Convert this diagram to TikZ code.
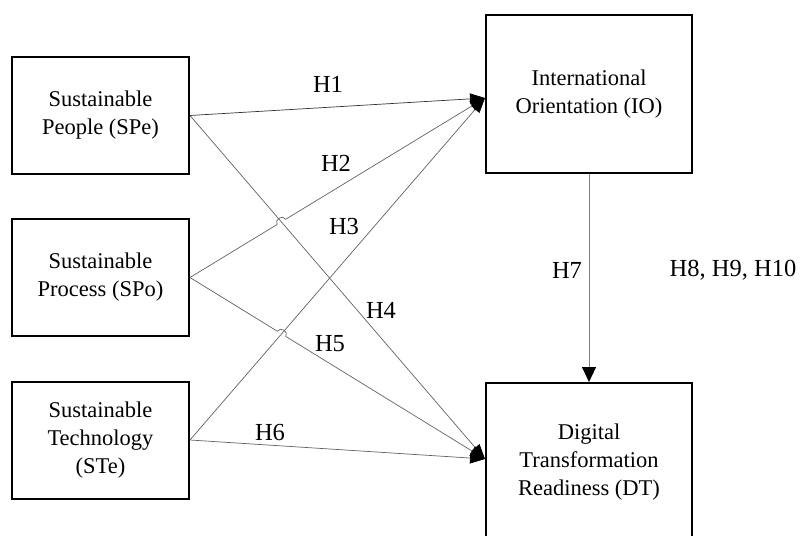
\documentclass[tikz,border=0pt]{standalone}
\usepackage{fontspec}
\setmainfont{Liberation Serif}
\usetikzlibrary{arrows.meta,calc,intersections}
\begin{document}
\begin{tikzpicture}[x=1pt,y=1pt,
  box/.style={draw=black,line width=2pt,fill=white,align=center,
    font=\fontsize{22.5}{28}\selectfont,inner sep=0pt},
  smallbox/.style={box,minimum width=177pt,minimum height=117pt},
  bigbox/.style={box,minimum width=206pt,minimum height=158pt},
  conn/.style={draw=black!62,line width=0.7pt,-{Triangle[length=15pt,width=11pt,fill=black,color=black]}},
  lbl/.style={font=\fontsize{24.5}{28}\selectfont,inner sep=0pt}
]
\useasboundingbox (0,0) rectangle (805,-535);

\node[smallbox] (SPe) at (100.5,-115.5) {Sustainable\\People (SPe)};
\node[smallbox] (SPo) at (100.5,-277.5) {Sustainable\\Process (SPo)};
\node[smallbox] (STe) at (100.5,-440) {Sustainable\\Technology\\(STe)};
\node[bigbox] (IO) at (589,-94) {International\\Orientation (IO)};
\node[bigbox] (DT) at (589,-462) {Digital\\Transformation\\Readiness (DT)};

\coordinate (ioin) at (485,-98);
\coordinate (dtin) at (485,-459);

\path[name path=p4] (SPe.east) -- (dtin);
\path[name path=p2] (SPo.east) -- (ioin);
\path[name path=p5] (SPo.east) -- (dtin);
\path[name path=p3] (STe.east) -- (ioin);
\path[name intersections={of=p4 and p2,by=X1}];
\path[name intersections={of=p5 and p3,by=X2}];

% H1, H4, H3, H6 straight
\draw[conn,draw=black!80] (SPe.east) -- (ioin);
\draw[conn] (SPe.east) -- (dtin);
\draw[conn] (STe.east) -- (ioin);
\draw[conn] (STe.east) -- (dtin);
% H2 with hop over H4
\draw[conn] (SPo.east) -- ($(X1)!5pt!(SPo.east)$)
  to[bend left=90,looseness=1.5] ($(X1)!5pt!(ioin)$) -- (ioin);
% H5 with hop over H3
\draw[conn] (SPo.east) -- ($(X2)!5pt!(SPo.east)$)
  to[bend left=90,looseness=1.5] ($(X2)!5pt!(dtin)$) -- (dtin);
% H7
\draw[draw=black!50,line width=0.9pt,-{Triangle[length=15pt,width=14pt,fill=black,color=black]}] (IO.south) -- (DT.north);

\node[lbl] (h1) at (328,-84) {H1};
\node[lbl] (h2) at (336,-163) {H2};
\node[lbl] (h3) at (344,-227) {H3};
\node[lbl] (h4) at (381,-310) {H4};
\node[lbl] (h5) at (330,-344) {H5};
\node[lbl] (h6) at (270,-433) {H6};
\node[lbl] (h7) at (567,-270) {H7};
\node[lbl] (h8) at (733,-270) {H8, H9, H10};
\end{tikzpicture}
\end{document}
